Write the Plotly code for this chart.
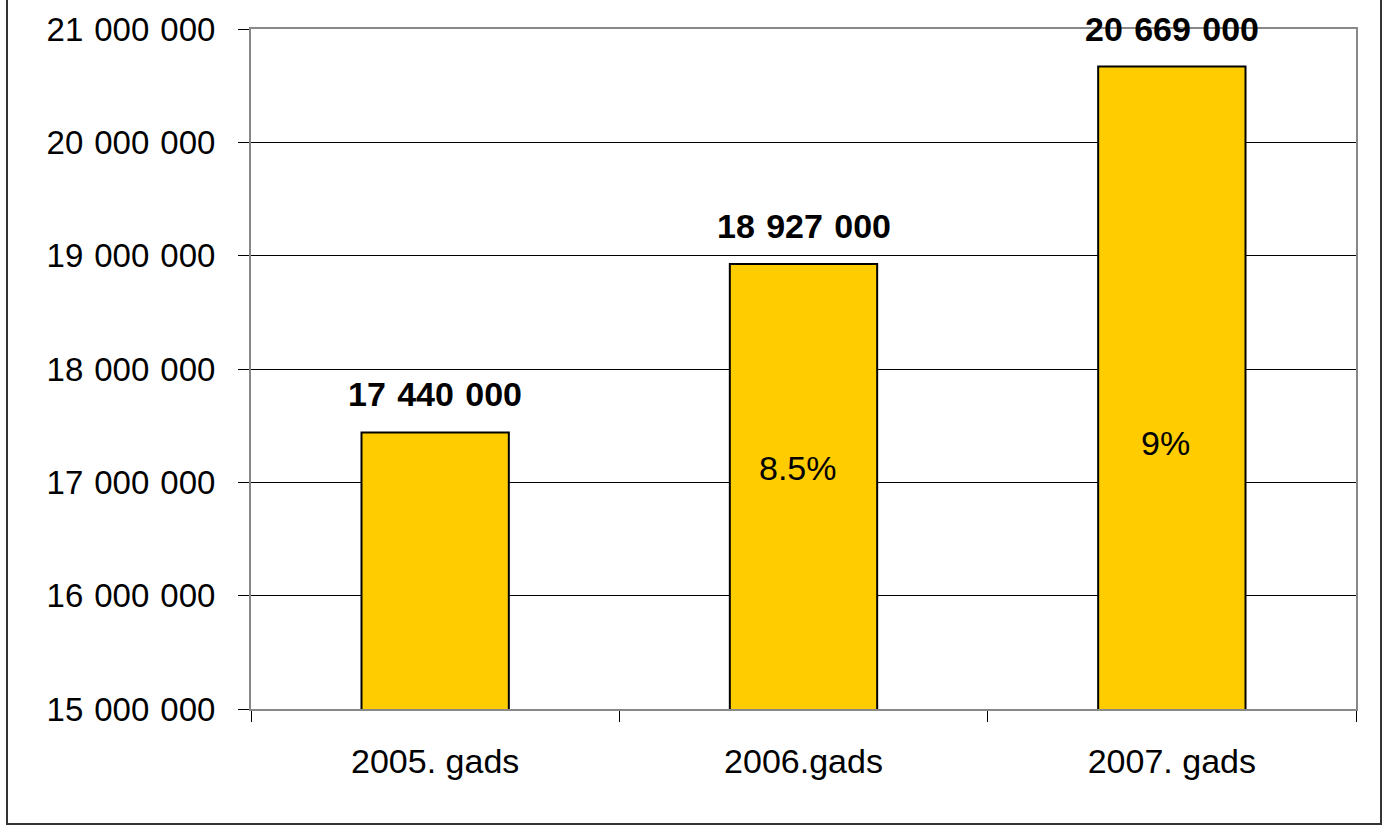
import plotly.graph_objects as go

categories = ["2005. gads", "2006.gads", "2007. gads"]
values = [17440000, 18927000, 20669000]
growth_labels = ["", "8.5%", "9%"]
growth_label_y = [None, 17127000, 17347000]
y_ticks = [15000000, 16000000, 17000000, 18000000, 19000000, 20000000, 21000000]

FONT = "Liberation Sans, Arial, sans-serif"
SEP = "\u2004"

def fmt(v):
    return f"{v:,}".replace(",", SEP)

fig = go.Figure()
fig.add_trace(go.Bar(
    x=categories, y=values, width=0.4,
    marker=dict(color="#FFCC00", line=dict(color="#000000", width=2)),
    hoverinfo="skip", showlegend=False,
))

annotations = []
for c, v in zip(categories, values):
    annotations.append(dict(x=c, y=v, xref="x", yref="y", text="<b>" + fmt(v) + "</b>",
                            showarrow=False, yanchor="bottom", yshift=17,
                            font=dict(family=FONT, size=34, color="#000")))
for c, t, ly in zip(categories, growth_labels, growth_label_y):
    if t:
        annotations.append(dict(x=c, y=ly, xref="x", yref="y", text=t, showarrow=False,
                                yanchor="middle", xshift=-6,
                                font=dict(family=FONT, size=34, color="#000")))

L, R, T, B = 251, 27, 29, 118
W, H = 1383, 827
pw, ph = W - L - R, H - T - B
bx0 = (7 - L) / pw
bx1 = (1381 - L) / pw
by0 = ((H - B) - 824) / ph
by1 = ((H - B) + 2) / ph

fig.update_layout(
    width=W, height=H,
    margin=dict(l=L, r=R, t=T, b=B, pad=0),
    paper_bgcolor="#FFFFFF", plot_bgcolor="#FFFFFF",
    font=dict(family=FONT, size=33, color="#000"),
    separators="." + SEP,
    annotations=annotations,
    bargap=0.6,
    shapes=[dict(type="rect", xref="paper", yref="paper", x0=bx0, x1=bx1, y0=by0, y1=by1,
                 line=dict(color="#333333", width=2), fillcolor="rgba(0,0,0,0)", layer="below")],
)
fig.update_yaxes(
    range=[15000000, 21000000], tickvals=y_ticks, tickformat=",d",
    showgrid=True, gridcolor="#000000", gridwidth=1,
    ticks="outside", ticklen=11, tickcolor="#000000", tickwidth=1,
    showline=True, linecolor="#888888", linewidth=2, mirror=True,
    ticklabelstandoff=16, zeroline=False,
    tickfont=dict(family=FONT, size=33, color="#000"),
)
fig.update_xaxes(
    tickson="boundaries", ticks="outside", ticklen=11, tickcolor="#000000", tickwidth=1,
    showline=True, linecolor="#888888", linewidth=2, mirror=True,
    showgrid=False, ticklabelstandoff=21,
    tickfont=dict(family=FONT, size=34, color="#000"),
)

fig.write_html("out.html")
